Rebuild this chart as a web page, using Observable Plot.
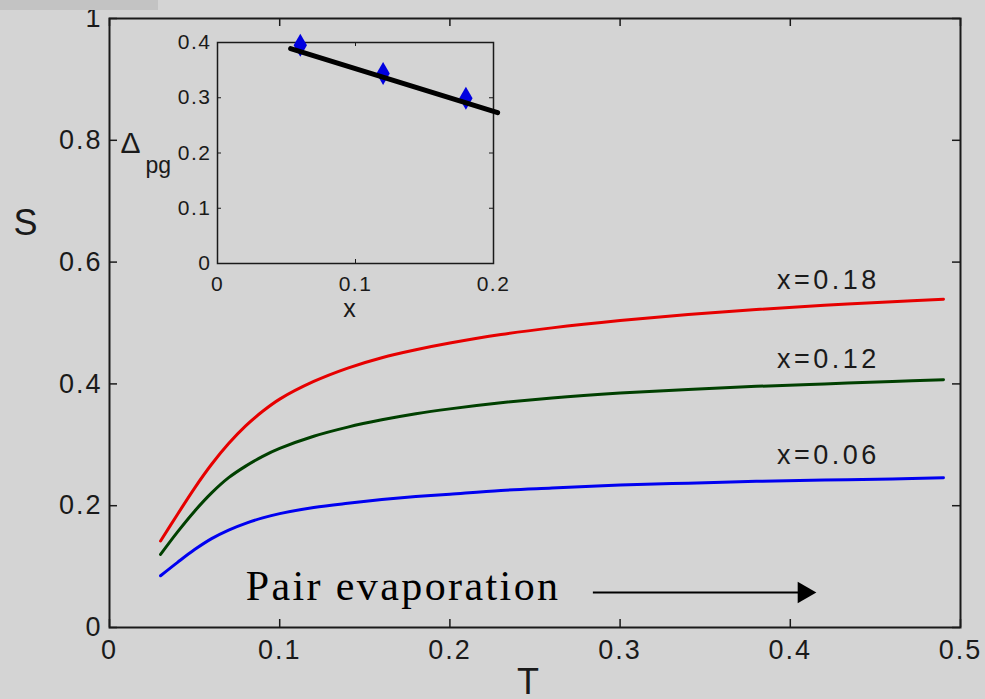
<!DOCTYPE html>
<html>
<head>
<meta charset="utf-8">
<script src="https://cdn.jsdelivr.net/npm/d3@7"></script>
<script src="https://cdn.jsdelivr.net/npm/@observablehq/plot@0.6"></script>
<style>
  html, body { margin: 0; padding: 0; background: #d4d4d4; }
  #wrap { position: relative; width: 985px; height: 699px; overflow: hidden; background: #d4d4d4; }
  #strip { position: absolute; left: 0; top: 0; width: 158px; height: 10px; background: #c3c3c3; }
  #inset { position: absolute; left: 110px; top: 20px; }
  #main { position: absolute; left: 0; top: 0; }
</style>
</head>
<body>
<div id="wrap">
  <div id="main"></div>
  <div id="strip"></div>
  <div id="inset"></div>
</div>
<script>
// ---- main chart data ----
const T      = [0.03, 0.04, 0.05, 0.06, 0.07, 0.08, 0.09, 0.10, 0.12, 0.14, 0.16, 0.18, 0.20, 0.23, 0.26, 0.30, 0.34, 0.38, 0.42, 0.46, 0.49];
const S_x018 = [0.142, 0.186, 0.229, 0.268, 0.302, 0.331, 0.355, 0.375, 0.404, 0.426, 0.443, 0.456, 0.467, 0.481, 0.492, 0.504, 0.514, 0.522, 0.529, 0.535, 0.539];
const S_x012 = [0.120, 0.157, 0.191, 0.221, 0.246, 0.265, 0.281, 0.294, 0.314, 0.329, 0.341, 0.351, 0.359, 0.369, 0.377, 0.385, 0.391, 0.396, 0.400, 0.404, 0.407];
const S_x006 = [0.085, 0.107, 0.128, 0.146, 0.160, 0.171, 0.180, 0.187, 0.197, 0.204, 0.210, 0.215, 0.219, 0.225, 0.229, 0.234, 0.237, 0.240, 0.242, 0.244, 0.246];
const seriesNames  = ["x=0.18", "x=0.12", "x=0.06"];
const seriesColors = ["#e60000", "#004000", "#0000f0"];
const xTicks = [0, 0.1, 0.2, 0.3, 0.4, 0.5];
const yTicks = [0, 0.2, 0.4, 0.6, 0.8, 1];
const labelAtT = 0.42;
const annotationText = "Pair evaporation";
const annotationAt = {T: 0.08, S: 0.067};
const arrowFromT = 0.284, arrowToT = 0.406, arrowHeadT = 0.408, arrowS = 0.0575;

// ---- inset data ----
const insetX   = [0.06, 0.12, 0.18];
const insetD   = [0.395, 0.344, 0.299];
const insetErr = [0.012, 0.012, 0.012];
const fitX = [0.053, 0.203];
const fitD = [0.389, 0.273];
const insetXTicks = [0, 0.1, 0.2];
const insetYTicks = [0, 0.1, 0.2, 0.3, 0.4];

// ---- build tables ----
const allS = [S_x018, S_x012, S_x006];
const curves = [];
allS.forEach((arr, k) => arr.forEach((s, i) => curves.push({T: T[i], S: s, series: seriesNames[k]})));
const li = T.indexOf(labelAtT);
const labelRows = allS.map((arr, k) => ({T: T[li], S: arr[li], series: seriesNames[k]}));
const fmt = d => String(d);

const W = 985, H = 699, mL = 109, mR = 25, mT = 18, mB = 72;
const fw = W - mL - mR, fh = H - mT - mB;
const tk = 8, ink = "#1a1a1a";

const main = Plot.plot({
  width: W, height: H,
  marginLeft: mL, marginRight: mR, marginTop: mT, marginBottom: mB,
  style: {background: "transparent", fontFamily: "'Liberation Sans', Arial, sans-serif", color: ink, overflow: "visible"},
  x: {domain: [0, 0.5]},
  y: {domain: [0, 1]},
  color: {domain: seriesNames, range: seriesColors},
  marks: [
    Plot.axisX(xTicks, {tickSize: 0, tickPadding: 12, fontSize: 27, tickFormat: fmt, label: null}),
    Plot.axisY(yTicks, {tickSize: 0, tickPadding: 7, fontSize: 27, tickFormat: fmt, label: null}),
    Plot.tickX(xTicks, {x: d => d, insetTop: fh - tk, stroke: ink, strokeWidth: 1.5}),
    Plot.tickX(xTicks, {x: d => d, insetBottom: fh - tk, stroke: ink, strokeWidth: 1.5}),
    Plot.tickY(yTicks, {y: d => d, insetRight: fw - tk, stroke: ink, strokeWidth: 1.5}),
    Plot.tickY(yTicks, {y: d => d, insetLeft: fw - tk, stroke: ink, strokeWidth: 1.5}),
    Plot.frame({stroke: ink, strokeWidth: 2}),
    Plot.line(curves, {x: "T", y: "S", z: "series", stroke: "series", strokeWidth: 3, curve: "catmull-rom"}),
    Plot.text(labelRows, {x: "T", y: "S", text: "series", dy: -25, dx: 4, fontSize: 27, fill: ink}),
    Plot.text([annotationText], {x: () => annotationAt.T, y: () => annotationAt.S, text: d => d, textAnchor: "start",
      fontSize: 42, fontFamily: "'Liberation Serif', 'Times New Roman', serif", fill: "#000"}),
    Plot.link([0], {x1: () => arrowFromT, x2: () => arrowToT, y1: () => arrowS, y2: () => arrowS, stroke: "#000", strokeWidth: 2}),
    Plot.dot([0], {x: () => arrowHeadT, y: () => arrowS, symbol: "triangle", rotate: 90, r: 8, fill: "#000", stroke: null}),
    Plot.text(["S"], {frameAnchor: "left", dx: -84, dy: -100, fontSize: 36, fill: ink}),
    Plot.text(["T"], {frameAnchor: "bottom", dx: -7, dy: 41, lineAnchor: "top", fontSize: 36, fill: ink})
  ]
});
document.getElementById("main").appendChild(main);

// ---- inset ----
const iW = 410, iH = 310, imL = 107, imR = 27, imT = 22, imB = 67;
const ifw = iW - imL - imR, ifh = iH - imT - imB;
const itk = 4;
const inset = Plot.plot({
  width: iW, height: iH,
  marginLeft: imL, marginRight: imR, marginTop: imT, marginBottom: imB,
  style: {background: "transparent", fontFamily: "'Liberation Sans', Arial, sans-serif", color: ink, overflow: "visible"},
  x: {domain: [0, 0.2]},
  y: {domain: [0, 0.4]},
  marks: [
    Plot.axisX(insetXTicks, {tickSize: 0, tickPadding: 13, fontSize: 21, tickFormat: fmt, label: null}),
    Plot.axisY(insetYTicks, {tickSize: 0, tickPadding: 6, fontSize: 21, tickFormat: fmt, label: null}),
    Plot.tickX(insetXTicks, {x: d => d, insetTop: ifh - itk, stroke: ink}),
    Plot.tickX(insetXTicks, {x: d => d, insetBottom: ifh - itk, stroke: ink}),
    Plot.tickY(insetYTicks, {y: d => d, insetRight: ifw - itk, stroke: ink}),
    Plot.tickY(insetYTicks, {y: d => d, insetLeft: ifw - itk, stroke: ink}),
    Plot.frame({stroke: ink, strokeWidth: 1.5}),
    Plot.ruleX(insetX, {x: d => d, y1: (d, i) => insetD[i] - insetErr[i], y2: (d, i) => insetD[i] + insetErr[i], stroke: "#0000e0", strokeWidth: 3}),
    Plot.dot(insetX, {x: d => d, y: (d, i) => insetD[i], symbol: "diamond", r: 7, fill: "#0000e0", stroke: null}),
    Plot.line(fitX, {x: d => d, y: (d, i) => fitD[i], stroke: "#000", strokeWidth: 5}),
    Plot.text(["Δ"], {frameAnchor: "left", y: () => 0.217, dx: -97, fontSize: 30, fill: ink}),
    Plot.text(["pg"], {frameAnchor: "left", y: () => 0.178, dx: -72, fontSize: 23, fill: ink}),
    Plot.text(["x"], {frameAnchor: "bottom", dx: -6, dy: 53, fontSize: 25, fill: ink})
  ]
});
document.getElementById("inset").appendChild(inset);

// letter spacing to mimic the wide original lettering
d3.select(main).selectAll("g[aria-label='x-axis tick label'] text, g[aria-label='y-axis tick label'] text").style("letter-spacing", "2px");
d3.select(inset).selectAll("g[aria-label='x-axis tick label'] text, g[aria-label='y-axis tick label'] text").style("letter-spacing", "1.5px");
d3.select(main).selectAll("g[aria-label='text'] text").filter(function() { return /^x=/.test(this.textContent); }).style("letter-spacing", "3.5px");
d3.select(main).selectAll("g[aria-label='text'] text").filter(function() { return this.textContent === annotationText; }).style("letter-spacing", "2.4px");
// move the S axis label further left, as in the reference
d3.select(main).selectAll("g[aria-label='text'] text").filter(function() { return this.textContent === "S"; })
  .attr("transform", function() { const t = this.getAttribute("transform") || ""; return t + " translate(-12,0)"; });
</script>
</body>
</html>
